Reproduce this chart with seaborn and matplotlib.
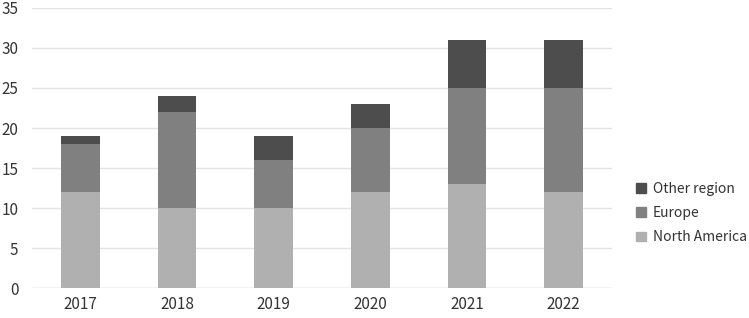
import numpy as np
import pandas as pd
import matplotlib
matplotlib.use("Agg")
import matplotlib.pyplot as plt
import seaborn as sns
from matplotlib.patches import Patch

years = ["2017", "2018", "2019", "2020", "2021", "2022"]
north_america = [12, 10, 10, 12, 13, 12]
europe = [6, 12, 6, 8, 12, 13]
other_region = [1, 2, 3, 3, 6, 6]

colors = {"North America": "#b0b0b0", "Europe": "#808080", "Other region": "#4d4d4d"}

sns.set_theme(style="white")
plt.rcParams["font.family"] = ["Noto Sans CJK JP", "DejaVu Sans"]

df = pd.DataFrame({"year": years, "na": north_america, "eu": europe, "other": other_region})
df["eu_top"] = df["na"] + df["eu"]
df["total"] = df["eu_top"] + df["other"]

fig = plt.figure(figsize=(7.49, 3.18), dpi=100)
ax = fig.add_axes([0.043, 0.094, 0.774, 0.881])

# stacked by overdrawing cumulative heights
for col, name in [("total", "Other region"), ("eu_top", "Europe"), ("na", "North America")]:
    sns.barplot(data=df, x="year", y=col, color=colors[name], width=0.4,
                saturation=1, linewidth=0, ax=ax, zorder=3)

ax.set_ylim(0, 35)
ax.set_xlim(-0.5, 5.5)
ax.set_yticks(range(0, 36, 5))
ax.yaxis.grid(True, color="#e4e4e4", linewidth=1, zorder=0)
ax.set_axisbelow(True)
for s in ax.spines.values():
    s.set_visible(False)
ax.axhline(0, color="#d9d9d9", linewidth=1, zorder=2)
ax.set_xlabel("")
ax.set_ylabel("")
ax.tick_params(axis="both", length=0, labelsize=11, labelcolor="#333333")
ax.tick_params(axis="y", pad=10)
ax.tick_params(axis="x", pad=6)

handles = [Patch(color=colors[k]) for k in ["Other region", "Europe", "North America"]]
fig.legend(handles, ["Other region", "Europe", "North America"], loc="center left",
           bbox_to_anchor=(0.833, 0.33), frameon=False, fontsize=10,
           handlelength=0.7, handleheight=0.7, handletextpad=0.5, labelspacing=0.75,
           labelcolor="#333333")

fig.savefig("out.png", dpi=100)
